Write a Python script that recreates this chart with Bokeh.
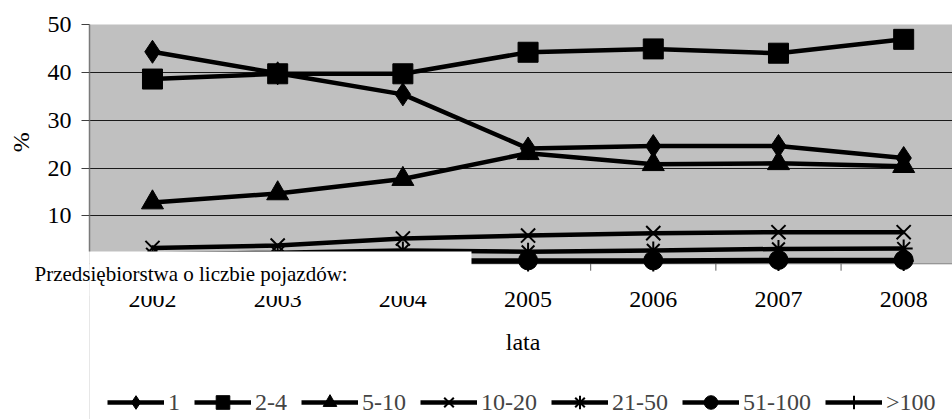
import math
from bokeh.plotting import figure
from bokeh.models import Range1d, FixedTicker, Legend, LegendItem, Label
from bokeh.embed import file_html
from bokeh.resources import INLINE
from bokeh.core.properties import value

# ---- data ----
years = [2002, 2003, 2004, 2005, 2006, 2007, 2008]
year_labels = ["2002", "2003", "2004", "2005", "2006", "2007", "2008"]
series_names = ["1", "2-4", "5-10", "10-20", "21-50", "51-100", ">100"]
v_1 = [44.3, 39.8, 35.4, 24.1, 24.6, 24.6, 22.1]
v_2_4 = [38.6, 39.7, 39.7, 44.2, 44.9, 44.0, 46.9]
v_5_10 = [12.8, 14.7, 17.7, 23.1, 20.8, 21.0, 20.4]
v_10_20 = [3.3, 3.8, 5.3, 5.9, 6.4, 6.6, 6.6]
v_21_50 = [2.0, 2.3, 2.8, 2.5, 2.8, 3.1, 3.2]
v_51_100 = [0.6, 0.6, 0.7, 0.7, 0.7, 0.8, 0.8]
v_100 = [0.4, 0.4, 0.5, 0.5, 0.5, 0.6, 0.6]
y_ticks = [10, 20, 30, 40, 50]
y_title = "%"
x_title = "lata"
box_title = "Przedsiębiorstwa o liczbie pojazdów:"

FONT = "Liberation Serif"

X0, X1 = 2001.497, 2008.39
Y0, Y1 = -32.54, 50

p = figure(width=952, height=419, output_backend="svg", toolbar_location=None,
           x_range=Range1d(X0, X1), y_range=Range1d(Y0, Y1),
           x_axis_location=None,
           min_border_left=89, min_border_right=0, min_border_top=22, min_border_bottom=0)
p.background_fill_color = "#C0C0C0"
p.border_fill_color = "white"
p.outline_line_color = None
p.xgrid.visible = False
p.ygrid.ticker = FixedTicker(ticks=y_ticks)
p.ygrid.grid_line_color = "#1a1a1a"
p.ygrid.grid_line_width = 1

ax = p.yaxis[0]
ax.ticker = FixedTicker(ticks=y_ticks)
ax.bounds = (2.57, 50)
ax.axis_line_color = "#7a7a7a"
ax.axis_line_width = 1.5
ax.major_tick_in = 0
ax.major_tick_out = 8
ax.major_tick_line_color = "#404040"
ax.minor_tick_out = 0
ax.minor_tick_in = 0
ax.major_label_standoff = 10
ax.major_label_text_font = FONT
ax.major_label_text_font_size = "24px"
ax.major_label_text_color = "black"

# white area below the plot area
p.quad(left=[X0], right=[X1], bottom=[Y0], top=[0], fill_color="white", line_color=None)
p.line(x=[X0, X1], y=[0, 0], line_color="#808080", line_width=1)
# category separators (tick marks)
tx = [y + 0.5 for y in years[:-1]]
p.segment(x0=tx, x1=tx, y0=[0] * len(tx), y1=[-1.45] * len(tx), line_color="#606060", line_width=1)

styles = [
    ("diamond", 23, 1),
    ("square", 20, 1),
    ("triangle", 22, 1),
    ("x", 20, 2),
    ("asterisk", 18, 2),
    ("circle", 19, 1),
    ("cross", 20, 2),
]
vals = [v_1, v_2_4, v_5_10, v_10_20, v_21_50, v_51_100, v_100]
items = []
for name, v, (mk, sz, lw) in zip(series_names, vals, styles):
    lr = p.line(x=years, y=v, line_color="black", line_width=4.5)
    sr = p.scatter(x=years, y=v, marker=mk, size=sz, fill_color="black",
                   line_color="black", line_width=lw)
    items.append(LegendItem(label=name, renderers=[lr, sr]))

p.text(x=years, y=[-7.44] * len(years), text=year_labels, text_font=value(FONT),
       text_font_size="24px", text_align="center", text_baseline="alphabetic", text_color="black")

# white caption box
p.quad(left=[X0], right=[2004.548], top=[2.57], bottom=[-6.75], fill_color="white", line_color=None)

p.add_layout(Label(x=2004.96, y=-16.44, text=x_title, text_font=FONT, text_font_size="24px",
                   text_baseline="alphabetic", text_align="center", text_color="black"))

# texts outside the plot frame go to side panels so that they are not clipped
p.add_layout(Label(x=2001.058, y=-2.11, text=box_title, text_font=FONT, text_font_size="21px",
                   text_baseline="alphabetic", text_align="left", text_color="black"), "above")
p.add_layout(Label(x=2000.95, y=25.4, text=y_title, text_font=FONT, text_font_size="24px",
                   angle=math.pi / 2, text_baseline="middle", text_align="center",
                   text_color="black"), "left")

legend = Legend(items=items, location=(18, 0), orientation="horizontal",
                glyph_width=57, glyph_height=34, label_standoff=4, spacing=14,
                padding=0, margin=0, border_line_color=None, background_fill_alpha=0,
                label_text_font=FONT, label_text_font_size="24px", label_width=0)
p.add_layout(legend)

open("out.html", "w").write(file_html(p, INLINE))
